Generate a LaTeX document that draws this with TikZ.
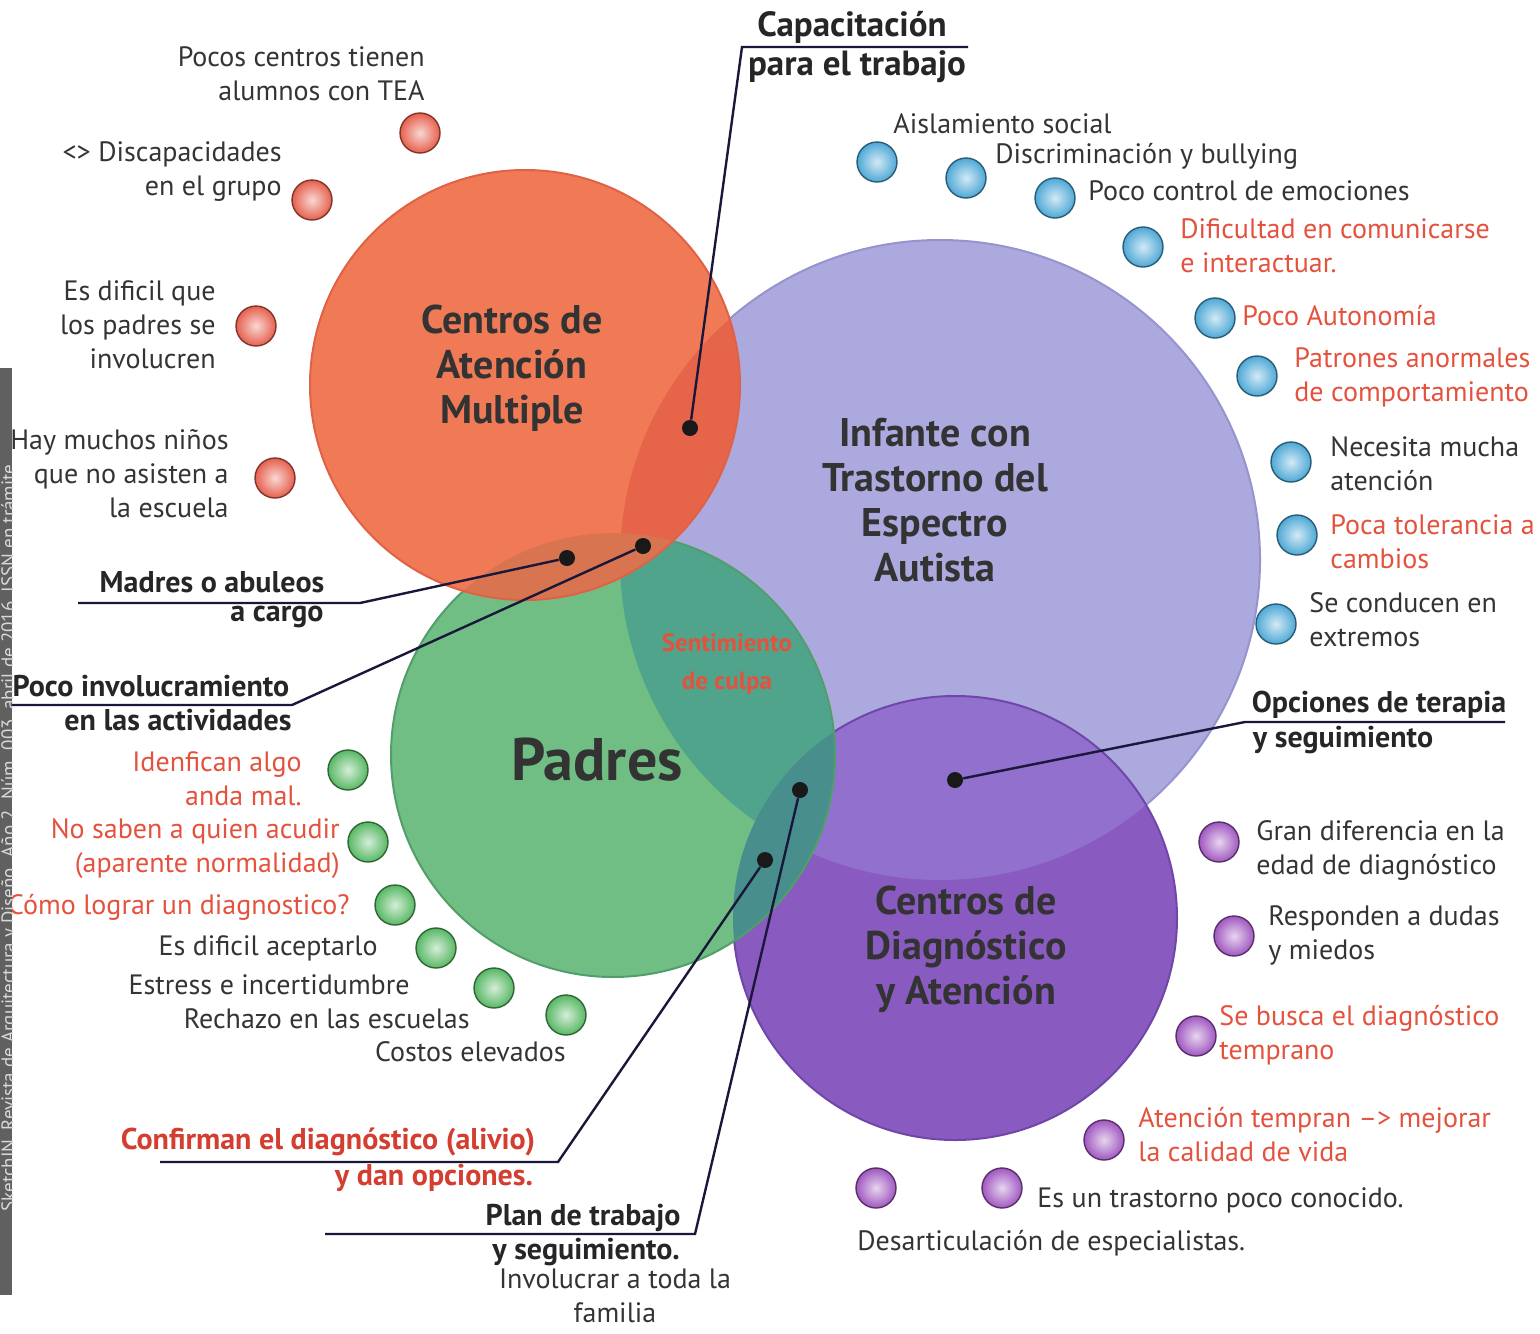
\documentclass[tikz,border=0pt]{standalone}
\usepackage{fontspec}
\setmainfont{PT Sans}

\definecolor{lav}{RGB}{171,169,222}
\definecolor{lavE}{RGB}{150,147,205}
\definecolor{pur}{RGB}{137,90,192}
\definecolor{purL}{RGB}{146,112,206}
\definecolor{purE}{RGB}{112,70,168}
\definecolor{grn}{RGB}{112,190,132}
\definecolor{grnL}{RGB}{80,164,140}
\definecolor{grnP}{RGB}{72,142,140}
\definecolor{grnE}{RGB}{82,158,106}
\definecolor{org}{RGB}{241,122,86}
\definecolor{orgL}{RGB}{229,100,74}
\definecolor{orgG}{RGB}{216,116,80}
\definecolor{orgE}{RGB}{224,98,70}
\definecolor{txt}{RGB}{52,52,52}
\definecolor{rtxt}{RGB}{228,82,62}
\definecolor{rbold}{RGB}{212,62,48}
\definecolor{lead}{RGB}{26,24,58}
\definecolor{bar}{RGB}{96,96,96}
\definecolor{sphO}{RGB}{230,96,78}
\definecolor{sphB}{RGB}{78,168,214}
\definecolor{sphG}{RGB}{88,184,100}
\definecolor{sphP}{RGB}{160,88,192}

\begin{document}
\begin{tikzpicture}[x=0.5pt,y=-0.5pt,
  txt/.style={font=\fontsize{14}{17}\selectfont, text=txt, inner sep=0pt},
  redtxt/.style={txt, text=rtxt},
  tag/.style={font=\fontsize{15}{20}\selectfont\bfseries, text=black!85, inner sep=0pt},
  hub/.style={font=\fontsize{20}{22.5}\selectfont\bfseries, align=center, text=black!80},
  sph/.style={circle, minimum size=20pt, inner sep=0pt, inner color=#1!25!white, outer color=#1, draw=#1!55!black, line width=0.7pt},
  pin/.style={circle, fill=black!90, minimum size=8pt, inner sep=0pt},
  leader/.style={draw=lead, line width=1.2pt}]
\useasboundingbox (0,0) rectangle (1540,1333);

\coordinate (cL) at (940,560);
\coordinate (cP) at (955,918);
\coordinate (cG) at (613,755);
\coordinate (cO) at (525,385);

% circles
\fill[lav] (cL) circle (320);
\draw[lavE, line width=1pt] (cL) circle (320);
\fill[pur] (cP) circle (222);
\begin{scope}
  \clip (cP) circle (222);
  \fill[purL] (cL) circle (320);
\end{scope}
\draw[purE, line width=1pt] (cP) circle (222);
\fill[grn] (cG) circle (222);
\begin{scope}
  \clip (cG) circle (222);
  \fill[grnL] (cL) circle (320);
  \fill[grnP] (cP) circle (222);
\end{scope}
\draw[grnE, line width=1pt] (cG) circle (222);
\fill[org] (cO) circle (215);
\begin{scope}
  \clip (cO) circle (215);
  \fill[orgL] (cL) circle (320);
  \fill[orgG] (cG) circle (222);
\end{scope}
\draw[orgE, line width=1pt] (cO) circle (215);

\node[hub] (hubO) at (512,368) {Centros de\\Atención\\Multiple};
\node[hub] (hubL) at (935,500) {Infante con\\Trastorno del\\Espectro\\Autista};
\node[hub] (hubP) at (966,949) {Centros de\\Diagnóstico\\y Atención};
\node[font=\fontsize{30}{32}\selectfont\bfseries, text=black!80] (hubG) at (597,760) {Padres};
\node[font=\fontsize{12.5}{19}\selectfont\bfseries, text=rtxt, align=center] (hubGL) at (727,664) {Sentimiento\\de culpa};

% spheres
\foreach \p [count=\i] in {(420,133),(312,200),(256,326),(275,478)}
  \node[sph=sphO] (so\i) at \p {};
\foreach \p [count=\i] in {(877,162),(966,178),(1055,198),(1143,247),(1215,318),(1257,376),(1291,462),(1297,535),(1276,624)}
  \node[sph=sphB] (sb\i) at \p {};
\foreach \p [count=\i] in {(348,770),(368,842),(395,905),(436,948),(494,988),(566,1015)}
  \node[sph=sphG] (sg\i) at \p {};
\foreach \p [count=\i] in {(1219,842),(1234,936),(1196,1036),(1104,1140),(1002,1188),(876,1188)}
  \node[sph=sphP] (sp\i) at \p {};

% orange labels
\node[txt, anchor=east, align=right] (o1) at (425,74) {Pocos centros tienen\\alumnos con TEA};
\node[txt, anchor=east, align=right] (o2) at (282,172) {<> Discapacidades\\en el grupo};
\node[txt, anchor=east, align=right] (o3) at (216,325) {Es dificil que\\los padres se\\involucren};
\node[txt, anchor=east, align=right] (o4) at (229,474) {Hay muchos niños\\que no asisten a\\la escuela};

% blue labels
\node[txt, anchor=west] (b1) at (893,124) {Aislamiento social};
\node[txt, anchor=west] (b2) at (995,156) {Discriminación y bullying};
\node[txt, anchor=west] (b3) at (1088,191) {Poco control de emociones};
\node[redtxt, anchor=west, align=left] (b4) at (1180,246) {Dificultad en comunicarse\\e interactuar.};
\node[redtxt, anchor=west] (b5) at (1242,316) {Poco Autonomía};
\node[redtxt, anchor=west, align=left] (b6) at (1294,377) {Patrones anormales\\de comportamiento};
\node[txt, anchor=west, align=left] (b7) at (1330,464) {Necesita mucha\\atención};
\node[redtxt, anchor=west, align=left] (b8) at (1330,542) {Poca tolerancia a\\cambios};
\node[txt, anchor=west, align=left] (b9) at (1309,620) {Se conducen en\\extremos};

% purple labels
\node[txt, anchor=west, align=left] (p1) at (1256,850) {Gran diferencia en la\\edad de diagnóstico};
\node[txt, anchor=west, align=left] (p2) at (1268,935) {Responden a dudas\\y miedos};
\node[redtxt, anchor=west, align=left] (p3) at (1219,1035) {Se busca el diagnóstico\\temprano};
\node[redtxt, anchor=west, align=left] (p4) at (1138,1135) {Atención tempran –> mejorar\\la calidad de vida};
\node[txt, anchor=west] (p5) at (1037,1200) {Es un trastorno poco conocido.};
\node[txt, anchor=west] (p6) at (857,1243) {Desarticulación de especialistas.};

% green labels
\node[redtxt, anchor=east, align=right] (g1) at (302,779) {Idenfican algo\\anda mal.};
\node[redtxt, anchor=east, align=right] (g2) at (340,849) {No saben a quien acudir\\(aparente normalidad)};
\node[redtxt, anchor=east] (g3) at (350,907) {Cómo lograr un diagnostico?};
\node[txt, anchor=east] (g4) at (378,948) {Es dificil aceptarlo};
\node[txt, anchor=east] (g5) at (410,985) {Estress e incertidumbre};
\node[txt, anchor=east] (g6) at (470,1019) {Rechazo en las escuelas};
\node[txt, anchor=east] (g7) at (566,1052) {Costos elevados};

% callouts
\node[tag, font=\fontsize{17.5}{20}\selectfont\bfseries] (cap1) at (852,27) {Capacitación};
\node[tag, font=\fontsize{17.5}{20}\selectfont\bfseries] (cap2) at (857,67) {para el trabajo};
\node[pin] (dCap) at (690,428) {};
\coordinate (capA) at (742,47);
\coordinate (capB) at (968,47);
\draw[leader] (dCap) -- (capA) -- (capB);

\node[tag] (mad1) at (212,582) {Madres o abuleos};
\node[tag] (mad2) at (277,617) {a cargo};
\node[pin] (dMad) at (567,558) {};
\coordinate (madA) at (360,603);
\coordinate (madB) at (78,603);
\draw[leader] (dMad) -- (madA) -- (madB);

\node[tag] (poc1) at (151,686) {Poco involucramiento};
\node[tag] (poc2) at (178,720) {en las actividades};
\node[pin] (dPoc) at (643,546) {};
\coordinate (pocA) at (292,705);
\coordinate (pocB) at (0,705);
\draw[leader] (dPoc) -- (pocA) -- (pocB);

\node[tag] (opc1) at (1379,705) {Opciones de terapia};
\node[tag] (opc2) at (1343,740) {y seguimiento};
\node[pin] (dOpc) at (955,780) {};
\coordinate (opcA) at (1245,722);
\coordinate (opcB) at (1505,722);
\draw[leader] (dOpc) -- (opcA) -- (opcB);

\node[tag, text=rbold] (con1) at (328,1142) {Confirman el diagnóstico (alivio)};
\node[tag, text=rbold] (con2) at (434,1178) {y dan opciones.};
\node[pin] (dCon) at (765,860) {};
\coordinate (conA) at (558,1162);
\coordinate (conB) at (160,1162);
\draw[leader] (dCon) -- (conA) -- (conB);

\node[tag] (pla1) at (583,1218) {Plan de trabajo};
\node[tag] (pla2) at (586,1252) {y seguimiento.};
\node[txt, align=center] (pla3) at (615,1296) {Involucrar a toda la\\familia};
\node[pin] (dPla) at (800,790) {};
\coordinate (plaA) at (695,1234);
\coordinate (plaB) at (325,1234);
\draw[leader] (dPla) -- (plaA) -- (plaB);

% side strip
\fill[bar] (0,368) rectangle (12,1295);
\begin{scope}
  \clip (0,368) rectangle (12,1295);
  \node[rotate=90, anchor=west, font=\fontsize{9.5}{10}\selectfont, text=white!85!black, inner sep=0pt] (sig) at (10,1212) {SketchIN. Revista de Arquitectura y Diseño. Año 2. Núm. 003, abril de 2016, ISSN en trámite.};
\end{scope}
\end{tikzpicture}
\end{document}
